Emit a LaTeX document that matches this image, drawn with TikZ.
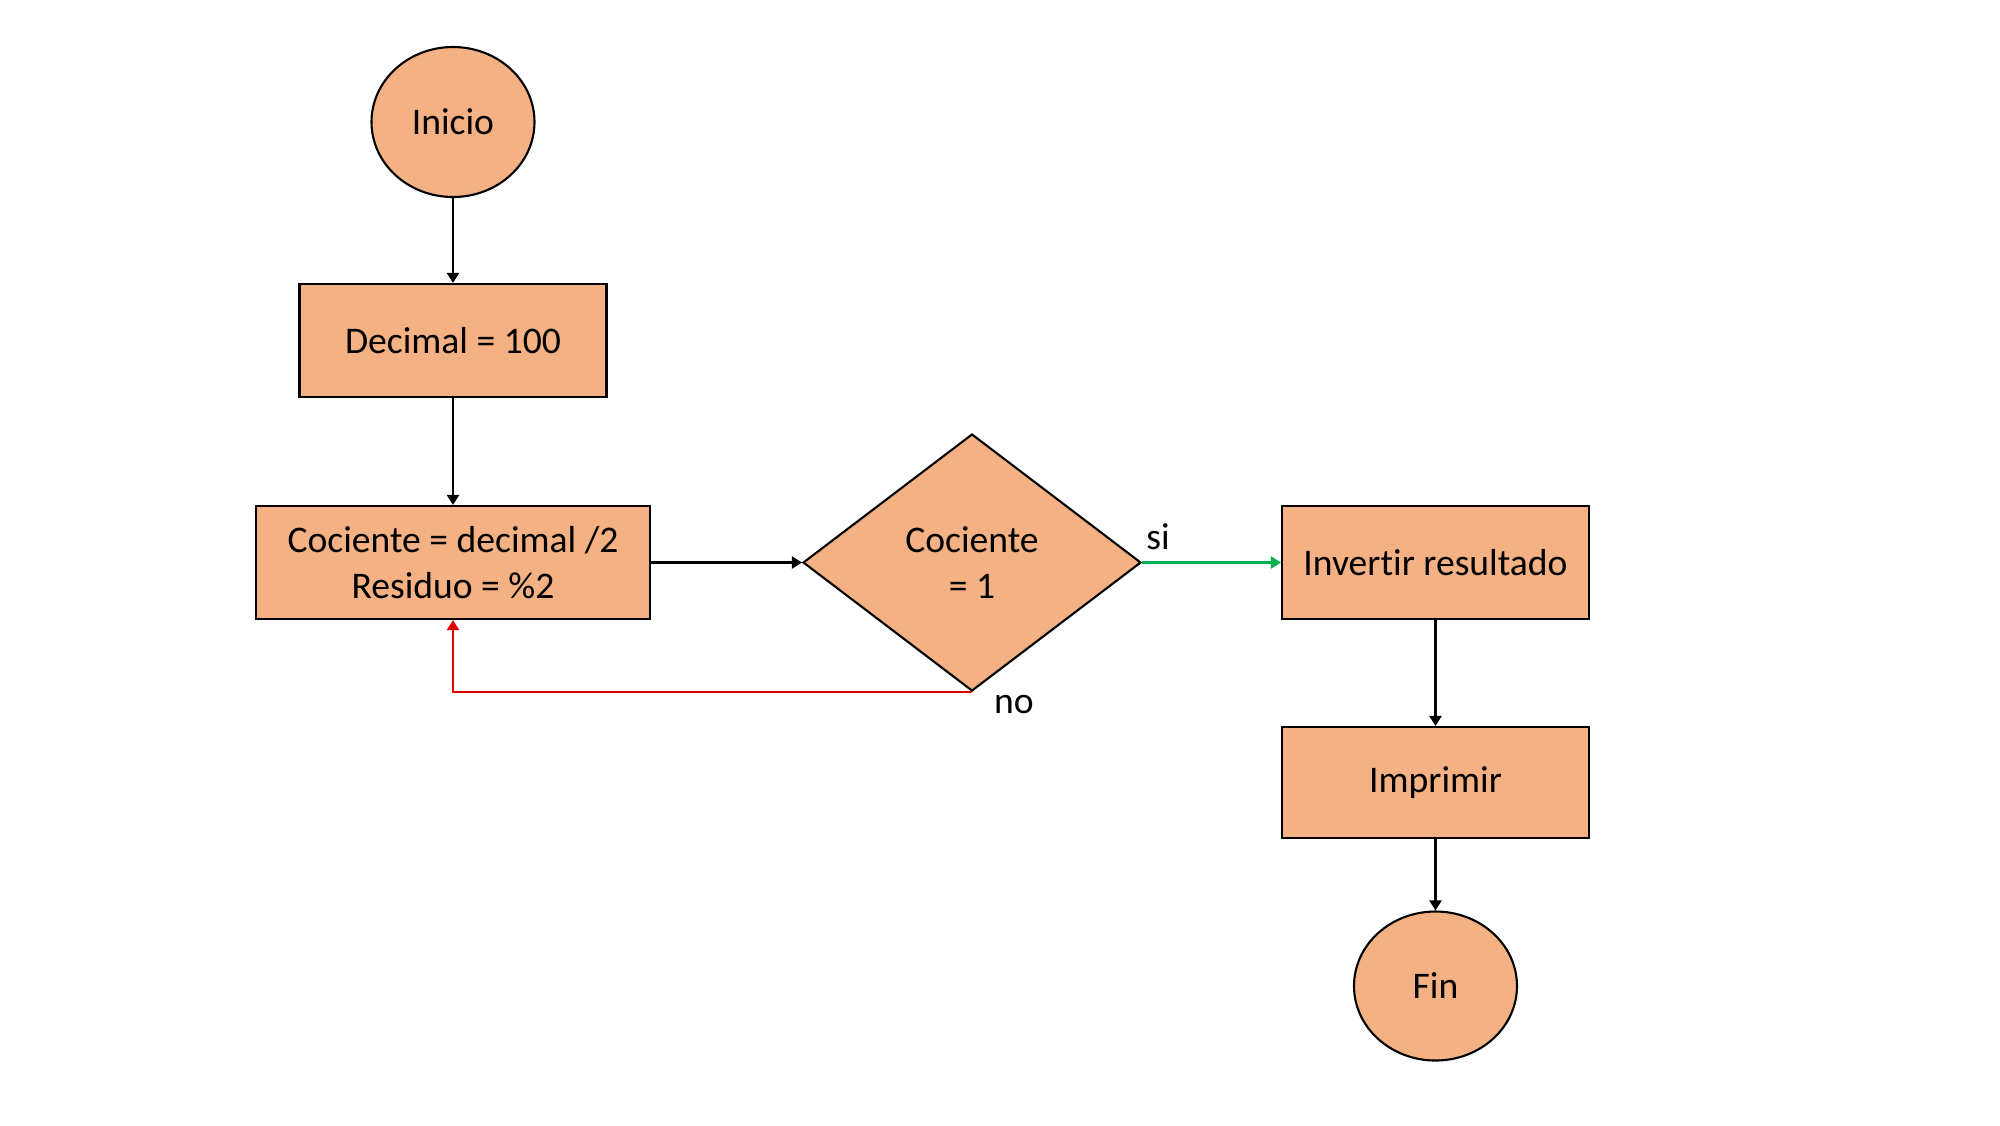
\documentclass[tikz,border=0pt]{standalone}
\usepackage{fontspec}
\setmainfont{Carlito}[Ligatures=NoCommon]
\usetikzlibrary{shapes.geometric,arrows.meta}
\definecolor{boxfill}{HTML}{F4B183}
\definecolor{yesgreen}{HTML}{00B050}
\definecolor{nored}{HTML}{E00000}

\begin{document}
\begin{tikzpicture}[
    font=\fontsize{10.7}{13.2}\selectfont,
    process/.style={rectangle, draw, fill=boxfill, line width=0.6pt, minimum width=3.07cm, minimum height=1.13cm, align=center},
    terminal/.style={ellipse, draw, fill=boxfill, line width=0.6pt, minimum width=1.63cm, minimum height=1.5cm},
    decision/.style={diamond, draw, fill=boxfill, line width=0.6pt, minimum width=3.38cm, minimum height=2.57cm, inner sep=0pt, align=center},
    arrow/.style={-{Triangle[length=0.1cm, width=0.12cm]}, line width=0.6pt},
    lbl/.style={inner sep=0pt}
]
\useasboundingbox (0,0) rectangle (20,-11.25);

\node[terminal] (inicio) at (4.53,-1.22) {Inicio};
\node[process] (decimal) at (4.53,-3.405) {Decimal = 100};
\node[process, minimum width=3.94cm] (cociente) at (4.53,-5.625) {Cociente = decimal /2\\Residuo = \%2};
\node[decision] (cond) at (9.72,-5.625) {Cociente\\= 1};
\node[process] (invertir) at (14.355,-5.625) {Invertir resultado};
\node[process, minimum height=1.11cm] (imprimir) at (14.355,-7.825) {Imprimir};
\node[terminal, minimum height=1.49cm] (fin) at (14.355,-9.86) {Fin};

% Labels of the decision
\node[lbl] (si) at (11.58,-5.37) {si};
\node[lbl] (no) at (10.14,-7.04) {no};

% Main flow
\draw[arrow] (inicio) -- (decimal);
\draw[arrow] (decimal) -- (cociente);
\draw[arrow] (cociente) -- (cond);
\draw[arrow, yesgreen] (cond.east) -- (invertir.west);
\draw[arrow] (invertir) -- (imprimir);
\draw[arrow] (imprimir) -- (fin);

% Loop back
\draw[arrow, nored] (cond.south) -| (cociente.south);

\end{tikzpicture}
\end{document}
